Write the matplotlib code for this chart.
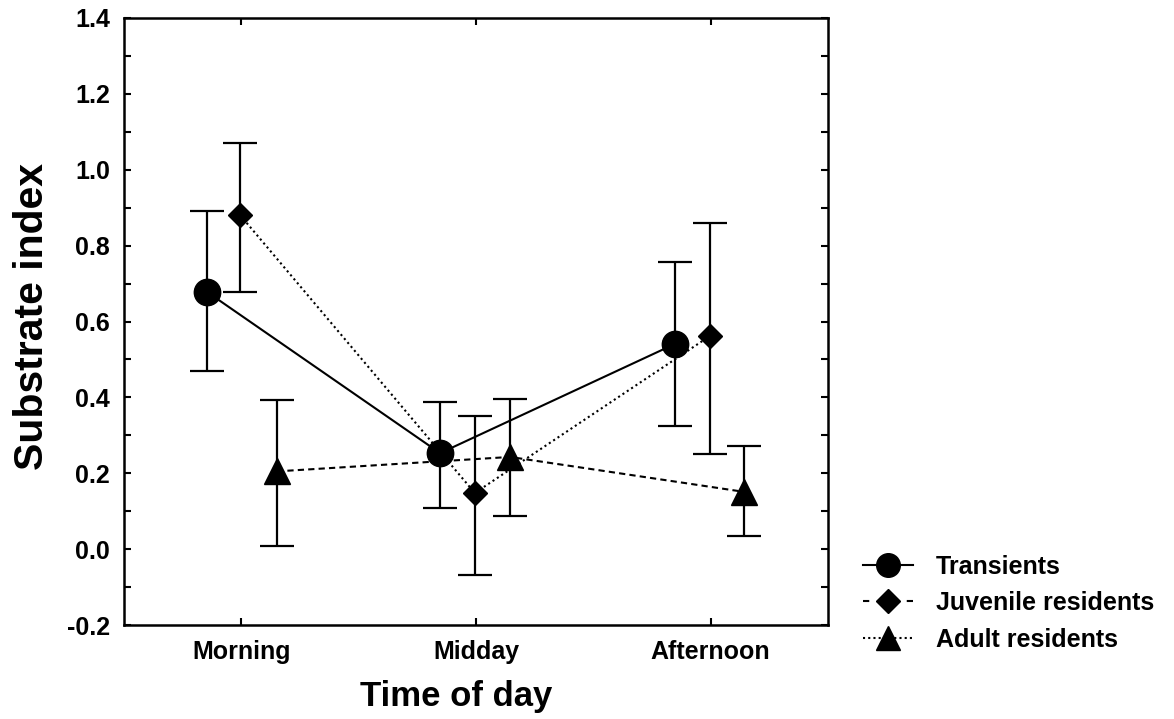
import numpy as np
import matplotlib
matplotlib.use("Agg")
import matplotlib.pyplot as plt
from matplotlib.lines import Line2D

plt.rcParams['font.family'] = ['Liberation Sans', 'DejaVu Sans']
plt.rcParams['font.weight'] = 'bold'

# categories and read-off values (x offsets = jitter around each category)
times = ['Morning', 'Midday', 'Afternoon']

trans_x = [-0.146, 0.847, 1.848]
trans_y = [0.678, 0.253, 0.541]
trans_lo = [0.470, 0.108, 0.325]
trans_hi = [0.891, 0.388, 0.757]

juv_x = [-0.006, 0.995, 1.997]
juv_y = [0.881, 0.148, 0.562]
juv_lo = [0.678, -0.068, 0.251]
juv_hi = [1.071, 0.351, 0.860]

adult_x = [0.152, 1.145, 2.142]
adult_y = [0.205, 0.243, 0.151]
adult_lo = [0.008, 0.087, 0.035]
adult_hi = [0.393, 0.396, 0.272]

labels = ['Transients', 'Juvenile residents', 'Adult residents']

fig = plt.figure(figsize=(11.74, 7.19), dpi=100)
ax = fig.add_axes([0.1056, 0.1307, 0.5997, 0.8443])

def series(x, y, lo, hi, marker, ms, ls):
    y = np.array(y)
    err = [y - np.array(lo), np.array(hi) - y]
    ax.errorbar(x, y, yerr=err, fmt='none', ecolor='black', elinewidth=1.6,
                capsize=12.5, capthick=1.6)
    ax.plot(x, y, color='black', linestyle=ls, linewidth=1.5, marker=marker,
            markersize=ms, markerfacecolor='black', markeredgecolor='black')

series(trans_x, trans_y, trans_lo, trans_hi, 'o', 19, '-')
series(juv_x, juv_y, juv_lo, juv_hi, 'D', 12, (0, (1, 1.5)))
series(adult_x, adult_y, adult_lo, adult_hi, '^', 19, (0, (3, 2)))

ax.set_xlim(-0.5, 2.5)
ax.set_ylim(-0.2, 1.4)
ax.set_xticks(range(len(times)))
ax.set_xticklabels(times, fontsize=18, fontweight='bold')
yt = np.arange(-0.2, 1.41, 0.2)
ax.set_yticks(yt)
ax.set_yticklabels(['%.1f' % v for v in yt], fontsize=18, fontweight='bold')
ax.set_yticks(np.arange(-0.1, 1.4, 0.2), minor=True)
ax.tick_params(axis='both', which='both', direction='in', length=5, width=1.5,
               top=True, right=True)
ax.tick_params(axis='x', pad=11)
ax.tick_params(axis='y', pad=10)
for s in ax.spines.values():
    s.set_linewidth(1.8)

ax.set_xlabel('Time of day', fontsize=25, fontweight='bold')
ax.xaxis.set_label_coords(0.472, -0.09)
ax.set_ylabel('Substrate index', fontsize=29.5, fontweight='bold')
ax.yaxis.set_label_coords(-0.104, 0.508)

# legend handles drawn the way the original legend shows them
handles = [
    Line2D([], [], color='black', linestyle='-', linewidth=1.5, marker='o',
           markersize=17),
    Line2D([], [], color='black', linestyle=(0, (3, 4)), linewidth=1.5,
           marker='D', markersize=12),
    Line2D([], [], color='black', linestyle=(0, (1, 1.5)), linewidth=1.5,
           marker='^', markersize=17),
]
fig.legend(handles, labels, loc='center left', bbox_to_anchor=(0.716, 0.161),
           frameon=False, handlelength=2.0, labelspacing=0.5,
           handletextpad=0.9, prop={'weight': 'bold', 'size': 18})

plt.savefig('out.png', dpi=100)
